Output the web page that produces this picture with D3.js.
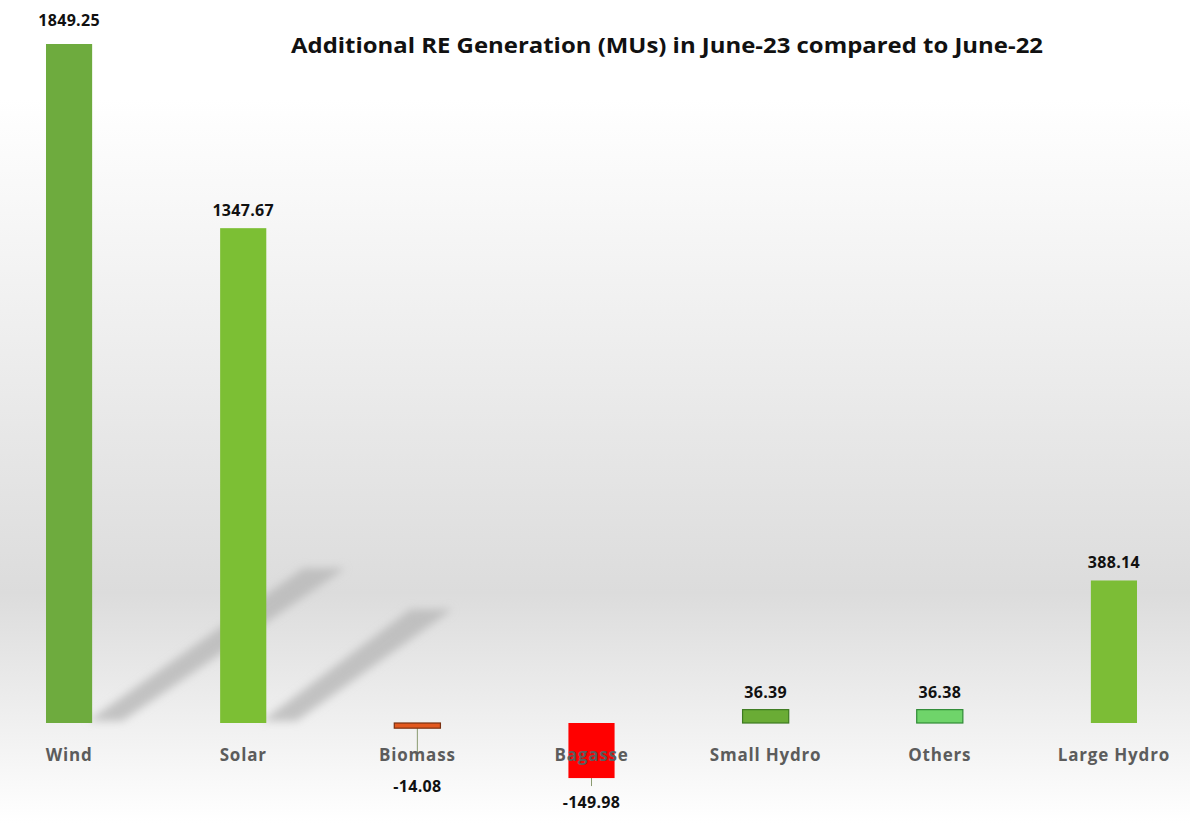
<!DOCTYPE html>
<html>
<head>
<meta charset="utf-8">
<script src="https://cdn.jsdelivr.net/npm/d3@7"></script>
<style>
  body { margin: 0; background: #fff; }
  svg { display: block; }
</style>
</head>
<body>
<div id="chart"></div>
<script>
var categories = ["Wind", "Solar", "Biomass", "Bagasse", "Small Hydro", "Others", "Large Hydro"];
var values = [1849.25, 1347.67, -14.08, -149.98, 36.39, 36.38, 388.14];
var barColors = ["#6eab3e", "#7cbf34", "#e2581e", "#ff0000", "#6aac35", "#6fd46a", "#7cbd36"];
var barStrokes = ["none", "none", "#7a3010", "none", "#3d7a20", "#2f8a35", "none"];
var title = "Additional RE Generation (MUs) in June-23 compared to June-22";

var width = 1190, height = 823;
var baseY = 723;

var svg = d3.select("#chart").append("svg")
  .attr("width", width)
  .attr("height", height);

var defs = svg.append("defs");
var bg = defs.append("linearGradient")
  .attr("id", "bg").attr("x1", 0).attr("y1", 0).attr("x2", 0).attr("y2", 1);
bg.append("stop").attr("offset", "0%").attr("stop-color", "#ffffff");
bg.append("stop").attr("offset", "12%").attr("stop-color", "#ffffff");
bg.append("stop").attr("offset", "72%").attr("stop-color", "#dcdcdc");
bg.append("stop").attr("offset", "100%").attr("stop-color", "#ffffff");

defs.append("filter").attr("id", "blur")
  .append("feGaussianBlur").attr("stdDeviation", 4);

svg.append("rect")
  .attr("width", width).attr("height", height)
  .attr("fill", "url(#bg)");

var x = d3.scaleBand()
  .domain(categories)
  .range([-18, 1201])
  .paddingInner(0.735)
  .paddingOuter(0.3675);

var y = d3.scaleLinear()
  .domain([0, 1849.25])
  .range([baseY, 44]);

var data = categories.map(function (c, i) {
  return { name: c, value: values[i], color: barColors[i], stroke: barStrokes[i] };
});

// diagonal shadows cast by the tall bars
svg.append("g")
  .attr("filter", "url(#blur)")
  .selectAll("path")
  .data(data.filter(function (d) { return d.value > 1000; }))
  .enter()
  .append("path")
  .attr("d", function (d) {
    var h = baseY - y(d.value);
    var x0 = x(d.name) + x.bandwidth();
    var dx = h * 0.364, dy = h * 0.222;
    var w = 36;
    return "M" + (x0 - 4) + "," + (baseY - 2) +
      "L" + (x0 + dx - w) + "," + (baseY - 4 - dy) +
      "L" + (x0 + dx + 6) + "," + (baseY - 4 - dy) +
      "L" + (x0 + 30) + "," + (baseY - 2) + "Z";
  })
  .attr("fill", "#b8b8b8")
  .attr("opacity", 0.8);

// leader lines for negative labels
svg.selectAll(".leader")
  .data(data.filter(function (d) { return d.value < 0; }))
  .enter()
  .append("line")
  .attr("x1", function (d) { return x(d.name) + x.bandwidth() / 2; })
  .attr("x2", function (d) { return x(d.name) + x.bandwidth() / 2; })
  .attr("y1", baseY)
  .attr("y2", function (d) { return d.value < -100 ? y(d.value) + 8 : baseY + 36; })
  .attr("stroke", "#8a9a70")
  .attr("stroke-width", 1);

svg.selectAll(".bar")
  .data(data)
  .enter()
  .append("rect")
  .attr("class", "bar")
  .attr("x", function (d) { return x(d.name); })
  .attr("width", x.bandwidth())
  .attr("y", function (d) { return Math.min(y(d.value), y(0)); })
  .attr("height", function (d) { return Math.max(Math.abs(y(d.value) - y(0)), 3); })
  .attr("fill", function (d) { return d.color; })
  .attr("stroke", function (d) { return d.stroke; })
  .attr("stroke-width", 1.2);

// category labels
svg.selectAll(".cat")
  .data(data)
  .enter()
  .append("text")
  .attr("x", function (d) { return x(d.name) + x.bandwidth() / 2; })
  .attr("y", 761)
  .attr("text-anchor", "middle")
  .attr("font-family", "'Open Sans', sans-serif")
  .attr("font-weight", 700)
  .attr("font-size", "17px")
  .attr("letter-spacing", "0.8px")
  .attr("fill", "#5c5c5c")
  .text(function (d) { return d.name; });

// value labels
svg.selectAll(".val")
  .data(data)
  .enter()
  .append("text")
  .attr("x", function (d) { return x(d.name) + x.bandwidth() / 2; })
  .attr("y", function (d) {
    if (d.value >= 0) return d.value > 1800 ? 26 : y(d.value) - 12;
    return d.value < -100 ? y(d.value) + 30 : 792;
  })
  .attr("text-anchor", "middle")
  .attr("font-family", "'Open Sans', sans-serif")
  .attr("font-weight", 700)
  .attr("font-size", "16px")
  .attr("letter-spacing", "0.3px")
  .attr("fill", "#111")
  .text(function (d) { return d.value.toFixed(2); });

svg.append("text")
  .attr("x", 667)
  .attr("y", 53)
  .attr("text-anchor", "middle")
  .attr("font-family", "'Open Sans', sans-serif")
  .attr("font-weight", 700)
  .attr("font-size", "21px")
  .attr("textLength", 752)
  .attr("lengthAdjust", "spacingAndGlyphs")
  .attr("fill", "#111")
  .text(title);
</script>
</body>
</html>
